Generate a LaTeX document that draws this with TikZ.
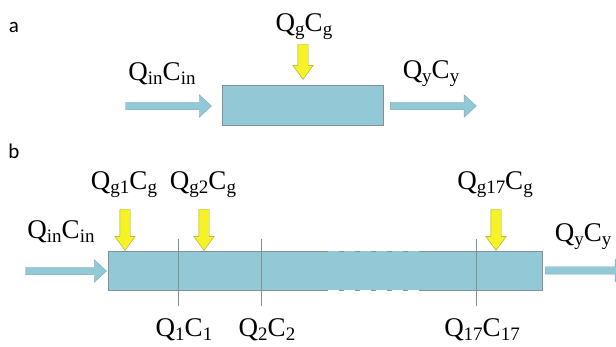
\documentclass[tikz,border=0pt]{standalone}
\usepackage{fontspec}
\setmainfont{Liberation Serif}
\newfontfamily\panelfont{Carlito}
\usepackage{tikz}
\usetikzlibrary{
  arrows.meta,
  positioning,
  calc,
  shapes.arrows
}
\definecolor{tube}{RGB}{147,201,214}
\definecolor{tubeedge}{RGB}{128,146,150}
\definecolor{flowedge}{RGB}{118,170,186}
\definecolor{gasfill}{RGB}{246,242,40}
\definecolor{gasedge}{RGB}{168,166,40}
\newcommand{\lo}[1]{\raisebox{-4pt}{\fontsize{19}{19}\selectfont #1}}

\begin{document}
\begin{tikzpicture}[
      x=1pt, y=-1pt,
      tubebox/.style={fill=tube, inner sep=0pt},
      flow/.style={single arrow, draw=flowedge, fill=tube, inner sep=3.5pt,
                   single arrow head extend=7.5pt, single arrow tip angle=85,
                   minimum height=86pt},
      gas/.style={single arrow, shape border rotate=270, draw=gasedge, fill=gasfill,
                  inner sep=5pt, single arrow head extend=5pt,
                  single arrow tip angle=72, anchor=tip},
      qlabel/.style={font=\fontsize{27}{27}\selectfont, inner sep=0pt, anchor=base},
      panel/.style={font=\panelfont\fontsize{21}{21}\selectfont, inner sep=0pt},
      cut/.style={draw=tubeedge, thin},
      notch/.style={white, line width=1.6pt, dash pattern=on 11pt off 5pt, dash phase=11pt}
  ]
      \useasboundingbox (0,0) rectangle (616,347);
      \clip (0,0) rectangle (616,347);

      % (a) single tank
      \node[panel] (pa) at (14,27) {a};
      \node[tubebox, draw=tubeedge, minimum width=161pt, minimum height=40pt] (boxa) at (302.5,105) {};
      \node[flow, anchor=tip]  (ina)  at ($(boxa.west)+(-10,1)$) {};
      \node[flow, anchor=tail] (outa) at ($(boxa.east)+(7,1)$) {};
      \node[gas, minimum height=35pt] (gasa) at ($(boxa.north)+(0.5,-5)$) {};

      \node[qlabel] (qga)  at (304,32) {Q\lo{g}C\lo{g}};
      \node[qlabel] (qina) at (162,81) {Q\lo{in}C\lo{in}};
      \node[qlabel] (qya)  at (431,79) {Q\lo{y}C\lo{y}};

      % (b) tank split in 17 cells
      \node[panel] (pb) at (14,151) {b};
      \node[tubebox, minimum width=434pt, minimum height=39pt] (boxb) at (325,270.5) {};
      \coordinate (gapL) at (323,0);
      \coordinate (gapR) at (420,0);
      \draw[tubeedge] (boxb.north -| gapL) -- (boxb.north west) -- (boxb.south west) -- (boxb.south -| gapL);
      \draw[tubeedge] (boxb.north -| gapR) -- (boxb.north east) -- (boxb.south east) -- (boxb.south -| gapR);
      \draw[notch] ($(boxb.north -| gapL)+(0,-1)$) -- ($(boxb.north -| gapR)+(0,-1)$);
      \draw[notch] ($(boxb.south -| gapL)+(0,1)$) -- ($(boxb.south -| gapR)+(0,1)$);
      \draw[tubeedge, dash pattern=on 5pt off 11pt] (boxb.north -| gapL) -- (boxb.north -| gapR);
      \draw[tubeedge, dash pattern=on 5pt off 11pt] (boxb.south -| gapL) -- (boxb.south -| gapR);

      \node[flow, anchor=tip, minimum height=81pt]  (inb)  at ($(boxb.west)+(-1,0.5)$) {};
      \node[flow, anchor=tail, minimum height=82pt] (outb) at ($(boxb.east)+(3,0)$) {};

      \node[qlabel] (qinb) at (61,239)  {Q\lo{in}C\lo{in}};
      \node[qlabel] (qyb)  at (583,242) {Q\lo{y}C\lo{y}};

      % gas inlets
      \foreach \x/\n in {125/1, 204/2, 496/17} {
          \node[gas, minimum height=41pt] (g\n) at (\x,0 |- boxb.north) {};
          \node[qlabel] (qg\n) at (\x-1,190) {Q\lo{g\n}C\lo{g}};
      }

      % cell boundaries
      \foreach \x/\n in {178/1, 261/2, 476/17} {
          \coordinate (ct\n) at (\x,239);
          \coordinate (cb\n) at (\x,306);
          \draw[cut] (ct\n) -- (cb\n);
          \node[qlabel] (qc\n) at (\x+6,337) {Q\lo{\n}C\lo{\n}};
      }
  \end{tikzpicture}
\end{document}
